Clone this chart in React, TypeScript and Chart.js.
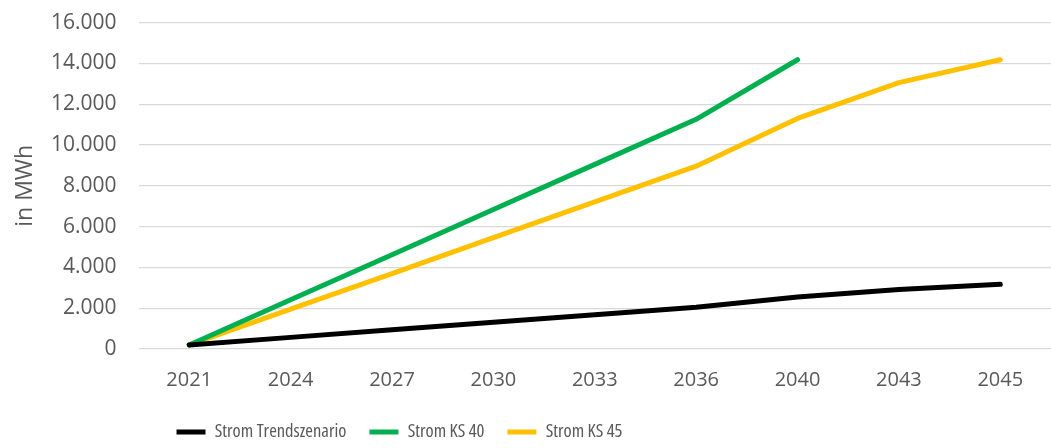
import React, { useEffect, useRef } from "react";
import { Chart, registerables } from "chart.js";

Chart.register(...registerables);

const categories = ["2021", "2024", "2027", "2030", "2033", "2036", "2040", "2043", "2045"];
const stromTrend = [200, 570, 940, 1310, 1680, 2050, 2550, 2920, 3170];
const stromKS40 = [200, 2410, 4620, 6840, 9050, 11260, 14180, null, null];
const stromKS45 = [200, 1950, 3700, 5460, 7210, 8960, 11300, 13060, 14180];
const seriesNames = ["Strom Trendszenario", "Strom KS 40", "Strom KS 45"];
const seriesColors = ["#000000", "#00b050", "#ffc000"];
const yTitle = "in MWh";

const LEGEND_PAD = 23;
const LEGEND_FONT = 18.5;

const legendShift = {
  id: "legendShift",
  afterLayout(chart: any) {
    const lg = chart.legend;
    if (!lg) return;
    lg.left = 176.5 - LEGEND_PAD;
    const top = 432 - LEGEND_PAD - LEGEND_FONT / 2;
    const h = lg.height;
    lg.top = top;
    lg.bottom = top + h;
  },
};

export default function App() {
  const ref = useRef<HTMLCanvasElement | null>(null);
  useEffect(() => {
    document.body.style.margin = "0";
    const ctx = ref.current!;
    const mk = (label: string, data: any[], color: string) => ({
      label,
      data,
      borderColor: color,
      backgroundColor: color,
      borderWidth: 5,
      pointRadius: 0,
      pointHoverRadius: 0,
      tension: 0,
      borderCapStyle: "round" as const,
      borderJoinStyle: "round" as const,
      spanGaps: false,
    });
    const chart = new Chart(ctx, {
      type: "line",
      data: {
        labels: categories,
        datasets: [
          mk(seriesNames[0], stromTrend, seriesColors[0]),
          mk(seriesNames[1], stromKS40, seriesColors[1]),
          mk(seriesNames[2], stromKS45, seriesColors[2]),
        ],
      },
      options: {
        animation: false,
        responsive: false,
        maintainAspectRatio: false,
        layout: { padding: { left: 7, right: 0, top: 0, bottom: -14.5 } },
        plugins: {
          tooltip: { enabled: false },
          legend: {
            position: "bottom",
            align: "start",
            labels: {
              usePointStyle: true,
              pointStyle: "line",
              pointStyleWidth: 29,
              boxHeight: 5,
              padding: LEGEND_PAD,
              color: "#595959",
              font: { family: "'Open Sans', sans-serif", size: LEGEND_FONT, weight: "condensed" as any },
            },
          },
        },
        scales: {
          x: {
            offset: true,
            grid: { display: false, drawTicks: false },
            border: { display: false },
            ticks: {
              color: "#595959",
              padding: 19,
              maxRotation: 0,
              font: { family: "'Open Sans', sans-serif", size: 20 },
            },
          },
          y: {
            min: 0,
            max: 16000,
            grid: { color: "#d9d9d9", lineWidth: 1.3, drawTicks: true, tickLength: 12, tickColor: "rgba(0,0,0,0)" },
            border: { display: false },
            ticks: {
              stepSize: 2000,
              color: "#595959",
              padding: 10,
              font: { family: "'Open Sans', sans-serif", size: 21 },
              callback: (v: any) => Number(v).toLocaleString("de-DE"),
            },
            title: {
              display: true,
              text: yTitle,
              color: "#595959",
              padding: { top: 7, bottom: 4 },
              font: { family: "'Open Sans', sans-serif", size: 23, weight: "normal", lineHeight: 1 },
            },
          },
        },
      },
      plugins: [legendShift],
    });
    return () => chart.destroy();
  }, []);
  return (
    <div style={{ position: "absolute", left: 0, top: 0, width: 1051, height: 448, background: "#fff" }}>
      <canvas ref={ref} width={1051} height={448} style={{ width: 1051, height: 448 }} />
    </div>
  );
}
